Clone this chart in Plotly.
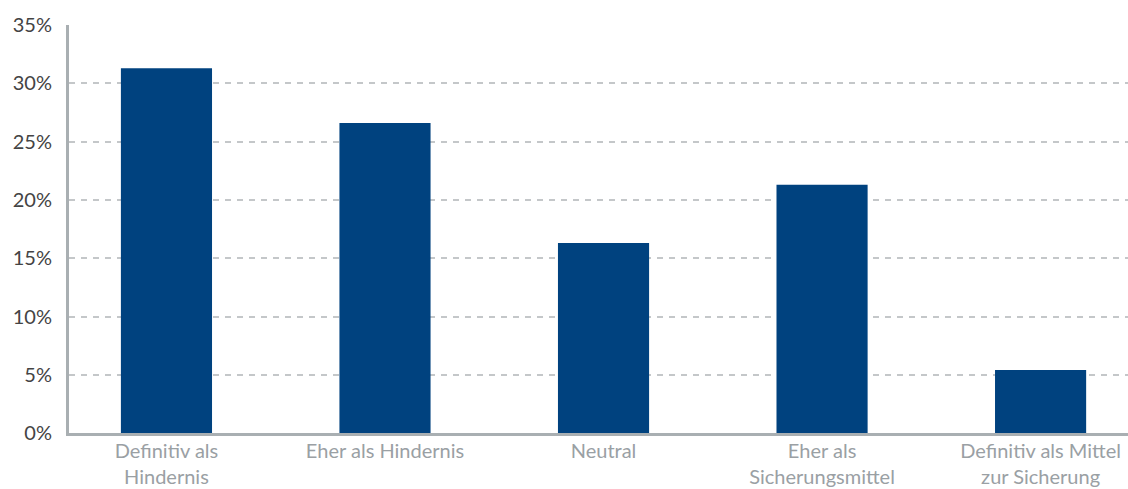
import plotly.graph_objects as go

categories = [
    "Definitiv als<br>Hindernis",
    "Eher als Hindernis",
    "Neutral",
    "Eher als<br>Sicherungsmittel",
    "Definitiv als Mittel<br>zur Sicherung",
]
shares = [31.3, 26.6, 16.3, 21.3, 5.4]
y_ticks = [0, 5, 10, 15, 20, 25, 30, 35]

BAR_COLOR = "#00427f"
AXIS_COLOR = "#a9afb2"
GRID_COLOR = "#c4c7c9"

fig = go.Figure(
    go.Bar(
        x=categories,
        y=shares,
        marker=dict(color=BAR_COLOR, line=dict(width=0)),
        hovertemplate="%{y:.1f}%<extra></extra>",
    )
)

fig.update_layout(
    width=1128,
    height=489,
    margin=dict(l=69, r=0, t=25, b=56),
    paper_bgcolor="white",
    plot_bgcolor="white",
    bargap=0.583,
    showlegend=False,
    font=dict(family="Lato", size=20, color="#444444"),
)

fig.update_xaxes(
    range=[-0.446, 4.40],
    automargin=False,
    showline=True,
    linecolor=AXIS_COLOR,
    linewidth=3,
    showgrid=False,
    ticks="",
    ticklabelstandoff=-2,
    tickfont=dict(family="Lato", size=20, color="#9aa0a4"),
)

fig.update_yaxes(
    range=[0, 35.02],
    automargin=False,
    tickvals=y_ticks,
    ticktext=[f"{v}%" for v in y_ticks],
    showline=True,
    linecolor=AXIS_COLOR,
    linewidth=3,
    showgrid=True,
    gridcolor=GRID_COLOR,
    gridwidth=1.5,
    griddash="6px,6px",
    zeroline=False,
    ticks="",
    ticklabelstandoff=10,
    tickfont=dict(family="Lato", size=20, color="#444444"),
)

fig.write_html("out.html")
